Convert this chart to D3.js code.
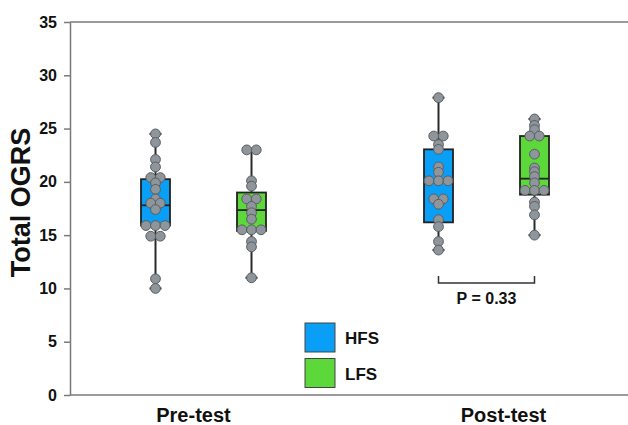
<!DOCTYPE html>
<html>
<head>
<meta charset="utf-8">
<script src="https://cdn.jsdelivr.net/npm/d3@7"></script>
<style>
  body { margin: 0; background: #fff; }
  text { font-family: "Liberation Sans", Arial, sans-serif; font-weight: bold; fill: #111; }
</style>
</head>
<body>
<div id="chart"></div>
<script>
// groups and series
let groups = ["Pre-test", "Post-test"];
let series = ["HFS", "LFS"];
let yTicks = [0, 5, 10, 15, 20, 25, 30, 35];

// individual scores
let preHFS = [24.5, 23.7, 22.1, 21.4, 20.4, 20.4, 19.9, 19.3, 18.4, 18.0, 18.0, 17.4, 15.9, 15.9, 15.9, 14.9, 14.9, 10.9, 10.0];
let preLFS = [23.0, 23.0, 20.1, 19.6, 18.4, 18.4, 17.7, 17.1, 16.5, 15.5, 15.5, 15.5, 14.4, 13.9, 11.0];
let postHFS = [27.9, 24.3, 24.3, 23.5, 23.05, 21.4, 20.9, 20.1, 20.1, 20.1, 18.4, 18.4, 17.9, 16.45, 15.8, 14.4, 13.6];
let postLFS = [25.9, 25.3, 24.9, 24.3, 24.3, 22.6, 21.3, 20.95, 20.5, 19.9, 19.2, 19.2, 19.2, 18.1, 17.7, 16.9, 15.0];

// box summaries (order: preHFS, preLFS, postHFS, postLFS)
let boxLow = [10.0, 11.0, 13.6, 15.0];
let boxQ1 = [15.9, 15.4, 16.2, 18.8];
let boxMed = [17.8, 17.35, 20.0, 20.3];
let boxQ3 = [20.25, 19.0, 23.05, 24.3];
let boxHigh = [24.5, 23.0, 27.9, 25.9];

let pLabel = "P = 0.33";

let colors = { "HFS": "#0a9ff6", "LFS": "#5cd83a" };

let W = 628, H = 425;
let mLeft = 70, mTop = 22, mBottom = 395;

let svg = d3.select("#chart").append("svg")
  .attr("width", W).attr("height", H);

let y = d3.scaleLinear().domain([0, 35]).range([mBottom, mTop]);
let xGroup = d3.scaleBand().domain(groups).range([62, W]);
let xSub = d3.scalePoint().domain(series).range([-48, 48]);

// build box records
let raw = [preHFS, preLFS, postHFS, postLFS];
let boxes = [];
groups.forEach((g, gi) => {
  series.forEach((s, si) => {
    let i = gi * 2 + si;
    boxes.push({
      group: g, series: s, values: raw[i],
      lo: boxLow[i], q1: boxQ1[i], med: boxMed[i], q3: boxQ3[i], hi: boxHigh[i],
      cx: xGroup(g) + xGroup.bandwidth() / 2 + xSub(s)
    });
  });
});

// frame lines
let axisCol = "#7a7a7a";
svg.append("line").attr("x1", mLeft).attr("x2", W).attr("y1", y(35)).attr("y2", y(35))
  .attr("stroke", axisCol).attr("stroke-width", 1.5);
svg.append("line").attr("x1", mLeft).attr("x2", W).attr("y1", y(0)).attr("y2", y(0))
  .attr("stroke", axisCol).attr("stroke-width", 1.5);

// y axis
let yAxis = svg.append("g")
  .attr("transform", `translate(${mLeft},0)`)
  .call(d3.axisLeft(y).tickValues(yTicks).tickSize(6).tickSizeOuter(0).tickPadding(7));
yAxis.select(".domain").attr("stroke", axisCol).attr("stroke-width", 1.5);
yAxis.selectAll(".tick line").attr("stroke", axisCol).attr("stroke-width", 1.5);
yAxis.selectAll(".tick text")
  .style("font-size", "16px").style("font-weight", "bold")
  .style("font-family", "'Liberation Sans', Arial, sans-serif").attr("fill", "#111");

svg.append("text")
  .attr("transform", `translate(30,${(mTop + mBottom) / 2 - 6}) rotate(-90)`)
  .attr("text-anchor", "middle")
  .style("font-size", "27px")
  .text("Total OGRS");

// group labels
let labelShift = { "Pre-test": -10, "Post-test": 17 };
svg.selectAll(".glabel").data(groups).enter().append("text")
  .attr("class", "glabel")
  .attr("x", d => xGroup(d) + xGroup.bandwidth() / 2 + labelShift[d])
  .attr("y", 422)
  .attr("text-anchor", "middle")
  .style("font-size", "20px")
  .text(d => d);

let bw = 29, capW = 12;
let gBox = svg.selectAll(".box").data(boxes).enter().append("g").attr("class", "box");

// whiskers
gBox.append("line")
  .attr("x1", d => d.cx).attr("x2", d => d.cx)
  .attr("y1", d => y(d.lo)).attr("y2", d => y(d.hi))
  .attr("stroke", "#2a2a2a").attr("stroke-width", 2);
gBox.append("line")
  .attr("x1", d => d.cx - capW / 2).attr("x2", d => d.cx + capW / 2)
  .attr("y1", d => y(d.hi)).attr("y2", d => y(d.hi))
  .attr("stroke", "#2a2a2a").attr("stroke-width", 2);
gBox.append("line")
  .attr("x1", d => d.cx - capW / 2).attr("x2", d => d.cx + capW / 2)
  .attr("y1", d => y(d.lo)).attr("y2", d => y(d.lo))
  .attr("stroke", "#2a2a2a").attr("stroke-width", 2);

// box
gBox.append("rect")
  .attr("x", d => d.cx - bw / 2).attr("width", bw)
  .attr("y", d => y(d.q3)).attr("height", d => y(d.q1) - y(d.q3))
  .attr("fill", d => colors[d.series])
  .attr("stroke", "#222").attr("stroke-width", 1.8);
gBox.append("line")
  .attr("x1", d => d.cx - bw / 2).attr("x2", d => d.cx + bw / 2)
  .attr("y1", d => y(d.med)).attr("y2", d => y(d.med))
  .attr("stroke", "#222").attr("stroke-width", 1.8);

// points: equal values share a row, centred on the box
let step = 9.5;
gBox.each(function(d) {
  let rows = d3.group(d.values, v => v);
  let pts = [];
  rows.forEach((vals, v) => {
    vals.forEach((vv, i) => pts.push({ v: vv, dx: (i - (vals.length - 1) / 2) * step }));
  });
  d3.select(this).selectAll("circle").data(pts).enter().append("circle")
    .attr("cx", p => d.cx + p.dx)
    .attr("cy", p => y(p.v))
    .attr("r", 4.9)
    .attr("fill", "#8e959b")
    .attr("stroke", "#5a5e62")
    .attr("stroke-width", 1);
});

// significance bracket between post-test boxes
let postBoxes = boxes.filter(b => b.group === "Post-test");
let bx1 = postBoxes[0].cx, bx2 = postBoxes[1].cx, by = 283;
svg.append("path")
  .attr("d", `M${bx1},${by - 7}V${by}H${bx2}V${by - 7}`)
  .attr("fill", "none").attr("stroke", "#333").attr("stroke-width", 1.5);
svg.append("text")
  .attr("x", (bx1 + bx2) / 2).attr("y", 304)
  .attr("text-anchor", "middle")
  .style("font-size", "16px")
  .text(pLabel);

// legend
let legend = svg.selectAll(".leg").data(series).enter().append("g")
  .attr("class", "leg")
  .attr("transform", (d, i) => `translate(305,${323 + i * 35.5})`);
legend.append("rect")
  .attr("width", 30).attr("height", 29)
  .attr("fill", d => colors[d])
  .attr("stroke", "#444").attr("stroke-width", 1);
legend.append("text")
  .attr("x", 40).attr("y", 21)
  .style("font-size", "17px")
  .text(d => d);
</script>
</body>
</html>
